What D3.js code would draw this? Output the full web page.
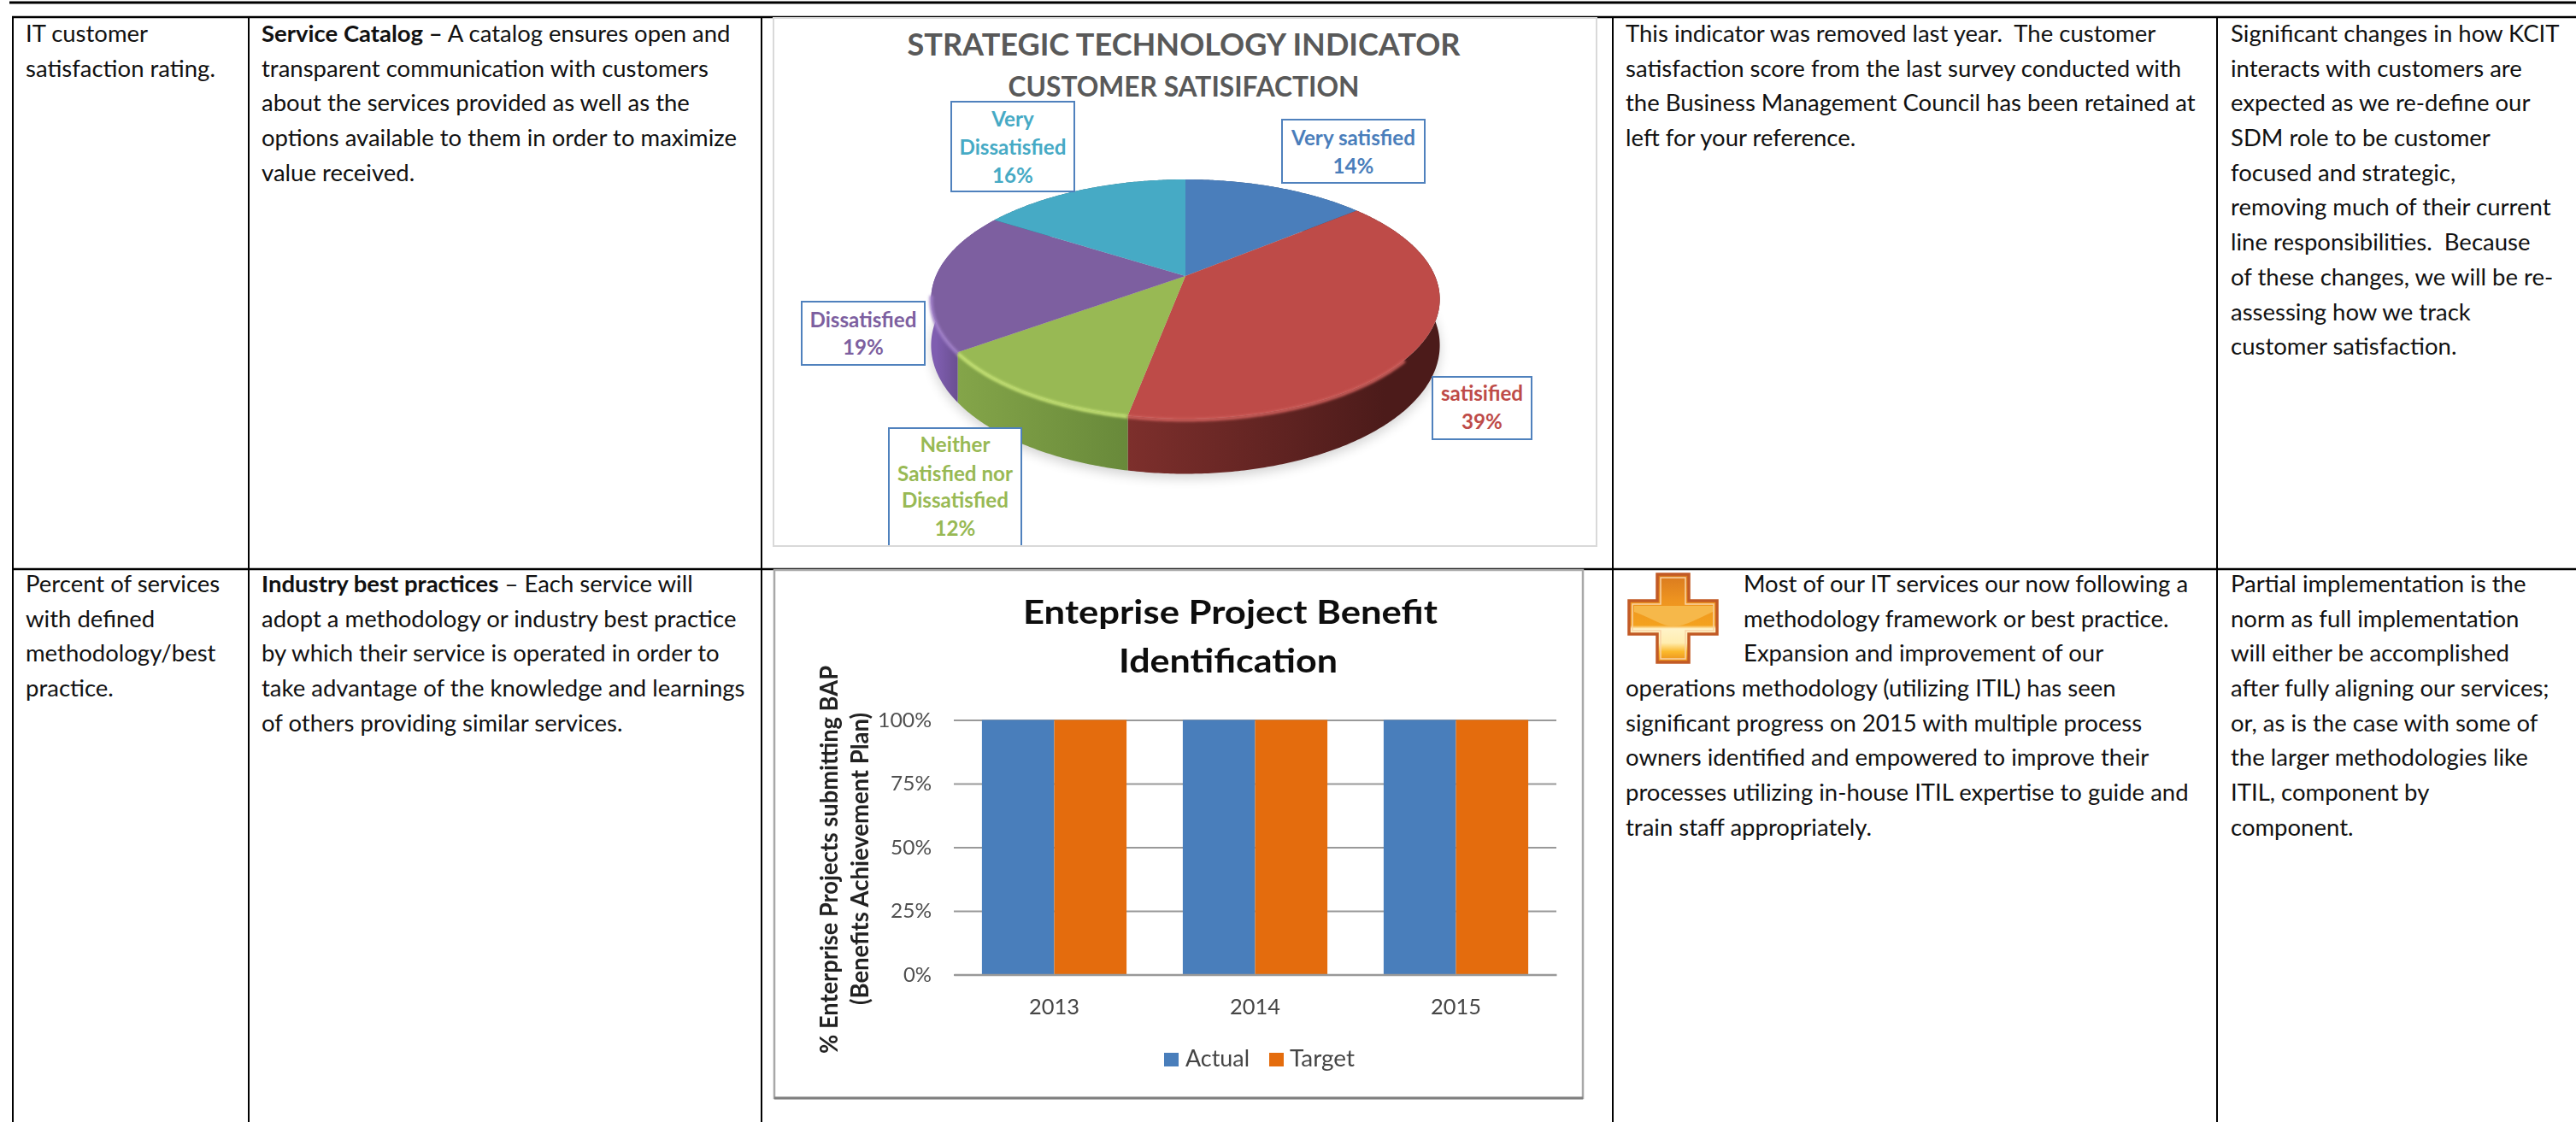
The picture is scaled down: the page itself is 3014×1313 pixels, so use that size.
<!DOCTYPE html>
<html>
<head>
<meta charset="utf-8">
<script src="https://cdn.jsdelivr.net/npm/d3@7"></script>
<style>
  html, body { margin: 0; background: #fff; overflow: hidden; }
  svg { display: block; }
  text { font-family: Lato, "Open Sans", sans-serif; white-space: pre; }
</style>
</head>
<body>
<div id="canvas"></div>
<script>
// data

const pieNames = [["Very satisfied"], ["satisified"], ["Neither", "Satisfied nor", "Dissatisfied"], ["Dissatisfied"], ["Very", "Dissatisfied"]];
const pieValues = [14, 39, 12, 19, 16];
const barYears = ["2013", "2014", "2015"];
const barSeries = ["Actual", "Target"];
const actualValues = [100, 100, 100];
const targetValues = [100, 100, 100];
const yTicks = [0, 25, 50, 75, 100];

const row1Metric = ["IT customer", "satisfaction rating."];
const row1Strategy = ["A catalog ensures open and", "transparent communication with customers", "about the services provided as well as the", "options available to them in order to maximize", "value received."];
const row1Status = ["This indicator was removed last year.  The customer", "satisfaction score from the last survey conducted with", "the Business Management Council has been retained at", "left for your reference."];
const row1Notes = ["Significant changes in how KCIT", "interacts with customers are", "expected as we re-define our", "SDM role to be customer", "focused and strategic,", "removing much of their current", "line responsibilities.  Because", "of these changes, we will be re-", "assessing how we track", "customer satisfaction."];
const row2Metric = ["Percent of services", "with defined", "methodology/best", "practice."];
const row2Strategy = ["Each service will", "adopt a methodology or industry best practice", "by which their service is operated in order to", "take advantage of the knowledge and learnings", "of others providing similar services."];
const row2StatusTop = ["Most of our IT services our now following a", "methodology framework or best practice.", "Expansion and improvement of our"];
const row2Status = ["operations methodology (utilizing ITIL) has seen", "significant progress on 2015 with multiple process", "owners identified and empowered to improve their", "processes utilizing in-house ITIL expertise to guide and", "train staff appropriately."];
const row2Notes = ["Partial implementation is the", "norm as full implementation", "will either be accomplished", "after fully aligning our services;", "or, as is the case with some of", "the larger methodologies like", "ITIL, component by", "component."];

// constants

const width = 3014;
const height = 1313;
const lineGap = 40.7;
const colX = [15, 291, 891, 1887, 2594];
const rowY = [20, 666];
const bodyColor = "#111";

const svg = d3.select("#canvas").append("svg").attr("width", width).attr("height", height);
const defs = svg.append("defs");

// measure a string so text can be squeezed to the narrow look of the original
function measure(str, size, weight, family) {
  const t = svg.append("text").attr("font-size", size).attr("font-weight", weight || 400)
    .style("font-family", family || null).text(str);
  const w = t.node().getComputedTextLength();
  t.remove();
  return w;
}

function fitted(parent, str, x, y, size, weight, targetW, fill, anchor) {
  return parent.append("text").attr("x", x).attr("y", y)
    .attr("font-size", size).attr("font-weight", weight).attr("fill", fill)
    .attr("text-anchor", anchor || "middle")
    .attr("textLength", targetW).attr("lengthAdjust", "spacingAndGlyphs")
    .text(str);
}

// table text

const bodySize = 27;
const bodyK = 523 / measure(row1Strategy[1], bodySize);

function block(lines, x, y) {
  const g = svg.append("g").attr("transform", `translate(${x},${y}) scale(${bodyK},1)`);
  g.selectAll("text").data(lines).join("text")
    .attr("y", (d, i) => i * lineGap)
    .attr("font-size", bodySize).attr("fill", bodyColor)
    .text(d => d);
  return g;
}

const base1 = 49;
const base2 = 693;

block(row1Metric, 30, base1);
const strat1 = block(row1Strategy, 306, base1);
strat1.select("text").text(null).call(t => {
  t.append("tspan").attr("font-weight", 700).text("Service Catalog \u2013");
  t.append("tspan").text(" " + row1Strategy[0]);
});
block(row1Status, 1902, base1);
block(row1Notes, 2610, base1);

block(row2Metric, 30, base2);
const strat2 = block(row2Strategy, 306, base2);
strat2.select("text").text(null).call(t => {
  t.append("tspan").attr("font-weight", 700).text("Industry best practices");
  t.append("tspan").text(" \u2013 " + row2Strategy[0]);
});
block(row2StatusTop, 2040, base2);
block(row2Status, 1902, base2 + lineGap * 3);
block(row2Notes, 2610, base2);

// table rules

const rules = svg.append("g").attr("stroke", "#000");
rules.append("line").attr("x1", 11).attr("x2", width).attr("y1", 3).attr("y2", 3).attr("stroke-width", 3);
rowY.forEach(y => rules.append("line").attr("x1", 14).attr("x2", width).attr("y1", y).attr("y2", y).attr("stroke-width", 2.5));
colX.forEach(x => rules.append("line").attr("x1", x).attr("x2", x).attr("y1", rowY[0]).attr("y2", height).attr("stroke-width", 2));

// pie chart, picture frame first

const pieG = svg.append("g");
pieG.append("rect").attr("x", 905).attr("y", 21).attr("width", 963).attr("height", 618)
  .attr("fill", "#fff").attr("stroke", "#d9d9d9").attr("stroke-width", 2);

fitted(pieG, "STRATEGIC TECHNOLOGY INDICATOR", 1385, 65, 36, 700, 647, "#595959");
fitted(pieG, "CUSTOMER SATISIFACTION", 1385, 113, 32, 700, 411, "#595959");

const pieColors = ["#4a7ebb", "#be4b48", "#98b954", "#7d5fa0", "#46aac5"];
const wallStart = ["#2e4f76", "#7d2f2c", "#84a549", "#7f5eb0", "#2b6b7c"];
const wallEnd = ["#2e4f76", "#4c1b1a", "#68893a", "#694e90", "#2b6b7c"];
const wallRange = [[1387, 1600], [1320, 1620], [1120, 1320], [1095, 1122], [1160, 1387]];
const rimColors = ["#6f9bd0", "#cf5f5b", "#c6e374", "#a080c8", "#70c6dc"];

// tilted disc, a little perspective makes the near side larger
const pieCx = 1387, pieCy = 323, pieRx = 292, pieRy = 134.8, tilt = 0.193, pieDepth = 52;

function rimPoint(a, drop) {
  const u = Math.sin(a), v = -Math.cos(a), w = 1 - tilt * v;
  return [pieCx + pieRx * u / w, pieCy + pieRy * v / w + drop / w];
}
const arcs = d3.pie().sort(null)(pieValues);
const rim = (d, drop) => d3.range(d.startAngle, d.endAngle, 0.01).concat(d.endAngle).map(a => rimPoint(a, drop));
const frontRim = (d, drop) => {
  const a0 = Math.max(d.startAngle, Math.PI * 0.72), a1 = Math.min(d.endAngle, Math.PI * 1.45);
  return a1 > a0 ? d3.range(a0, a1, 0.01).concat(a1).map(a => rimPoint(a, drop)) : [];
};
const line = d3.line();

const blur = defs.append("filter").attr("id", "soft").attr("x", "-20%").attr("y", "-20%").attr("width", "140%").attr("height", "140%");
blur.append("feGaussianBlur").attr("stdDeviation", 7);
const blurRim = defs.append("filter").attr("id", "softRim").attr("x", "-20%").attr("y", "-20%").attr("width", "140%").attr("height", "140%");
blurRim.append("feGaussianBlur").attr("stdDeviation", 1.6);
const blurScan = defs.append("filter").attr("id", "scan").attr("x", "-5%").attr("y", "-5%").attr("width", "110%").attr("height", "110%");
blurScan.append("feGaussianBlur").attr("stdDeviation", 0.6);

arcs.forEach((d, i) => {
  const grad = defs.append("linearGradient").attr("id", "wall" + i).attr("gradientUnits", "userSpaceOnUse")
    .attr("x1", wallRange[i][0]).attr("y1", 0).attr("x2", wallRange[i][1]).attr("y2", 0);
  grad.append("stop").attr("offset", 0).attr("stop-color", wallStart[i]);
  grad.append("stop").attr("offset", 1).attr("stop-color", wallEnd[i]);
});

// soft shadow under the disc
pieG.append("path")
  .attr("d", line(d3.merge(arcs.map(d => rim(d, pieDepth + 4)))) + "Z")
  .attr("fill", "#000").attr("opacity", 0.18).attr("filter", "url(#soft)");

// walls
pieG.selectAll("path.wall").data(arcs).join("path").attr("class", "wall")
  .attr("d", d => line(rim(d, 0).concat(rim(d, pieDepth).reverse())) + "Z")
  .attr("fill", (d, i) => `url(#wall${i})`);

// slices
pieG.selectAll("path.slice").data(arcs).join("path").attr("class", "slice")
  .attr("d", d => line([[pieCx, pieCy]].concat(rim(d, 0))) + "Z")
  .attr("fill", (d, i) => pieColors[i]);

// bevel highlight, near side only
pieG.selectAll("path.bevel").data(arcs.filter(d => frontRim(d, 0).length)).join("path").attr("class", "bevel")
  .attr("d", d => line(frontRim(d, 1)))
  .attr("fill", "none").attr("stroke", d => rimColors[d.index]).attr("stroke-width", 4)
  .attr("filter", "url(#softRim)");

// data labels

const labelSize = 25;
const labelK = 125 / measure("Dissatisfied", labelSize, 700);
const labelBoxes = [
  { x: 1500, y: 140, w: 167, h: 74, base: [170, 203] },
  { x: 1676, y: 441, w: 116, h: 73, base: [469, 502] },
  { x: 1040, y: 501, w: 155, h: 140, base: [529, 563, 594, 627] },
  { x: 938, y: 353, w: 144, h: 74, base: [383, 415] },
  { x: 1113, y: 119, w: 144, h: 105, base: [148, 181, 214] }
];
pieValues.forEach((v, i) => {
  const b = labelBoxes[i];
  if (i === 2) {
    // this box runs off the bottom of the picture
    pieG.append("path").attr("d", `M${b.x},${b.y + b.h - 3}V${b.y}H${b.x + b.w}V${b.y + b.h - 3}`)
      .attr("fill", "#fff").attr("stroke", "#4f81bd").attr("stroke-width", 2);
  } else {
    pieG.append("rect").attr("x", b.x).attr("y", b.y).attr("width", b.w).attr("height", b.h)
      .attr("fill", "#fff").attr("stroke", "#4f81bd").attr("stroke-width", 2);
  }
  pieNames[i].concat(v + "%").forEach((str, j) => {
    pieG.append("g").attr("transform", `translate(${b.x + b.w / 2},${b.base[j]}) scale(${labelK},1)`)
      .append("text").attr("text-anchor", "middle").attr("font-size", labelSize).attr("font-weight", 700)
      .attr("fill", pieColors[i]).text(str);
  });
});

// bar chart

const barFrame = { left: 906, top: 667, right: 1852, bottom: 1285 };
const barG = svg.append("g").attr("filter", "url(#scan)");
barG.append("rect").attr("x", barFrame.left).attr("y", barFrame.top)
  .attr("width", barFrame.right - barFrame.left).attr("height", barFrame.bottom - barFrame.top)
  .attr("fill", "#fff").attr("stroke", "#a8a8a8").attr("stroke-width", 2.5);
barG.append("line").attr("x1", barFrame.left).attr("x2", barFrame.right)
  .attr("y1", barFrame.bottom).attr("y2", barFrame.bottom).attr("stroke", "#7f7f7f").attr("stroke-width", 3);

const plotG = barG.append("g").attr("class", "plot");
const xBand = d3.scaleBand().domain(barYears).range([1116, 1821]).paddingInner(0.28).paddingOuter(0.14);
const xInner = d3.scaleBand().domain(barSeries).range([0, xBand.bandwidth()]);
const yScale = d3.scaleLinear().domain([0, 100]).range([1140.5, 842.5]);
const seriesColors = { Actual: "#4a7ebb", Target: "#e46c0a" };
const seriesValues = { Actual: actualValues, Target: targetValues };

const yAxis = d3.axisLeft(yScale).tickValues(yTicks).tickFormat(d => d + "%").tickSize(-705).tickPadding(26);
plotG.append("g").attr("transform", "translate(1116,0)").call(yAxis)
  .call(g => g.select(".domain").remove())
  .call(g => g.selectAll(".tick line").attr("stroke", "#999").attr("stroke-width", 2))
  .call(g => g.selectAll(".tick text").attr("fill", "#505050").attr("font-size", 24)
    .style("font-family", "Lato")
    .attr("textLength", d => d === 100 ? 63 : (d === 0 ? 33 : 48)).attr("lengthAdjust", "spacingAndGlyphs"));

barSeries.forEach(s => {
  plotG.selectAll("rect." + s).data(seriesValues[s]).join("rect").attr("class", s)
    .attr("x", (d, i) => xBand(barYears[i]) + xInner(s))
    .attr("y", d => yScale(d))
    .attr("width", xInner.bandwidth())
    .attr("height", d => yScale(0) - yScale(d))
    .attr("fill", seriesColors[s]);
});

const xAxis = d3.axisBottom(xBand).tickSize(0).tickPadding(29);
plotG.append("g").attr("transform", "translate(0,1140.5)").call(xAxis)
  .call(g => g.select(".domain").attr("stroke", "#999").attr("stroke-width", 2.5))
  .call(g => g.selectAll(".tick text").attr("fill", "#444").attr("font-size", 25)
    .style("font-family", "Lato")
    .attr("textLength", 59).attr("lengthAdjust", "spacingAndGlyphs"));

fitted(barG, "Enteprise Project Benefit", 1439.5, 730, 39, 700, 485, "#111");
fitted(barG, "Identification", 1437, 787, 39, 700, 256, "#111");

// y title
const yTitle = barG.append("g").attr("transform", "translate(980,1006) rotate(-90)");
fitted(yTitle, "% Enterprise Projects submitting BAP", 0, 0, 29, 700, 454, "#222");
fitted(yTitle, "(Benefits Achievement Plan)", 1, 36, 29, 700, 342, "#222");

// legend
const legendX = { Actual: [1362, 1387, 75], Target: [1485, 1509, 76] };
barSeries.forEach(s => {
  const p = legendX[s];
  barG.append("rect").attr("x", p[0]).attr("y", 1232).attr("width", 17).attr("height", 16).attr("fill", seriesColors[s]);
  fitted(barG, s, p[1], 1248, 26, 400, p[2], "#444", "start");
});

// status icon, the orange plus

const crossPath = "M1939,672H1976V703H2009V742H1976V775H1939V742H1906V703H1939Z";
const crossInner = "M1943,676H1972V707H2005V738H1972V771H1943V738H1910V707H1943Z";
const swoosh = "M1912,716C1930,722 1945,733 1958,733C1972,733 1990,722 2004,716V709H1912Z";
const crossGrad = defs.append("linearGradient").attr("id", "crossFill").attr("x1", 0).attr("y1", 0).attr("x2", 0).attr("y2", 1);
[[0, "#d9791f"], [0.3, "#ee9420"], [0.58, "#f4a21e"], [0.62, "#fff3c8"], [0.78, "#ffedb0"], [0.88, "#fbb92c"], [1, "#e88a1c"]]
  .forEach(s => crossGrad.append("stop").attr("offset", s[0]).attr("stop-color", s[1]));
const iconG = svg.append("g");
iconG.append("path").attr("d", crossPath).attr("fill", "url(#crossFill)")
  .attr("stroke", "#c25a25").attr("stroke-width", 3.5);
iconG.append("path").attr("d", swoosh).attr("fill", "#f6b84a");
iconG.append("path").attr("d", crossInner).attr("fill", "none").attr("stroke", "#f9d4a6").attr("stroke-width", 1.5);
</script>
</body>
</html>
